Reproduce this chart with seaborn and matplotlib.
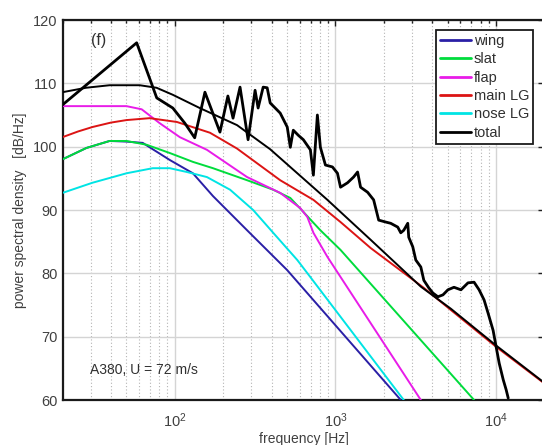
import numpy as np
import pandas as pd
import seaborn as sns
import matplotlib
matplotlib.use("Agg")
import matplotlib.pyplot as plt
from matplotlib.ticker import LogLocator, FixedLocator, NullFormatter

# ---------------- data (frequency [Hz], level [dB/Hz]) ----------------
wing_f = [20, 28.2, 39.3, 50, 63.1, 93, 129.6, 172.8, 281.8, 501, 2550]
wing_L = [98.0, 99.8, 100.9, 100.8, 100.6, 97.9, 95.8, 92.2, 86.8, 80.5, 60.0]

slat_f = [20, 28.2, 39.3, 50, 66.8, 93, 129.6, 172.8, 281.8, 409.7, 523.6, 631, 805.6, 1075, 7290]
slat_L = [98.0, 99.8, 100.9, 100.9, 100.3, 99.0, 97.6, 96.6, 94.7, 93.2, 91.9, 89.7, 86.8, 83.7, 60.0]

flap_f = [20, 50, 62.2, 80.6, 107.5, 158.5, 281.8, 453, 604, 668, 729, 891, 3398]
flap_L = [106.4, 106.4, 105.9, 103.7, 101.5, 99.5, 95.2, 92.7, 90.3, 88.9, 86.4, 82.6, 60.0]

mainlg_f = [20, 25, 30.7, 40, 50.1, 69.8, 103, 165.5, 244, 453, 729, 1075, 1655, 3548, 5233, 10000, 20000]
mainlg_L = [101.5, 102.4, 103.1, 103.8, 104.2, 104.5, 103.9, 102.2, 99.7, 94.7, 91.6, 88.1, 84.0, 77.7, 74.2, 68.4, 62.6]

noselg_f = [20, 30.7, 50.1, 72.9, 93, 118.9, 158.5, 220.9, 307.4, 409.7, 578.7, 698, 2661]
noselg_L = [92.7, 94.3, 95.8, 96.6, 96.6, 96.0, 95.2, 93.2, 90.0, 86.4, 82.1, 79.4, 60.0]

total_f = [20, 28, 39.3, 60.5, 77, 97, 143, 244, 392, 891, 1655, 3398, 5233, 10000, 20000]
total_L = [108.6, 109.3, 109.7, 109.7, 109.3, 108.2, 106.1, 103.4, 99.6, 91.6, 85.3, 77.9, 74.4, 68.6, 62.7]

meas_f = [20, 57.9, 77.2, 97.2, 115.5, 133, 154, 191, 214, 230.4, 254.7, 285.8, 316, 330,
          354.8, 375.8, 392.4, 421.7, 452.9, 501, 523.6, 546.4, 587, 631, 698, 728.6, 771.6,
          805.6, 866, 957.5, 1029, 1075, 1189, 1296, 1373, 1433, 1585, 1728, 1858, 2054, 2207,
          2441, 2549, 2661, 2818, 2858, 3027, 3162, 3398, 3548, 3811, 4037, 4340, 4667, 5012,
          5465, 6040, 6683, 7289, 7834, 8414, 8913, 9575, 10000, 10450, 11070, 11550, 11890]
meas_L = [106.6, 116.4, 107.7, 106.1, 103.7, 101.4, 108.6, 102.3, 108.0, 104.5, 109.4, 101.1,
          108.9, 106.1, 109.4, 109.3, 106.9, 106.1, 105.3, 103.1, 99.9, 102.6, 101.8, 101.1,
          99.5, 95.5, 105.0, 99.9, 97.1, 96.8, 95.8, 93.6, 94.3, 95.2, 96.0, 93.6, 92.8, 91.6,
          88.4, 88.1, 87.9, 87.3, 86.4, 86.8, 87.9, 85.7, 84.2, 82.1, 81.0, 78.9, 77.7, 76.9,
          76.3, 76.6, 77.4, 77.8, 77.4, 78.5, 78.6, 77.4, 75.8, 73.7, 71.0, 68.4, 65.8, 63.2,
          61.6, 60.3]

series = ["wing", "slat", "flap", "main LG", "nose LG", "total"]
colors = ["#2a1fa6", "#00dc3c", "#e81ce8", "#dc1414", "#00e4e4", "#000000"]
y_ticks = [60, 70, 80, 90, 100, 110, 120]
x_ticks = [100, 1000, 10000]
x_ticklabels = [r"$10^2$", r"$10^3$", r"$10^4$"]

# ---------------- figure ----------------
sns.set_style("white")
plt.rcParams["font.family"] = ["Liberation Sans", "DejaVu Sans"]
plt.rcParams["mathtext.fontset"] = "custom"
plt.rcParams["mathtext.rm"] = "Liberation Sans"
plt.rcParams["mathtext.it"] = "Liberation Sans"

fig = plt.figure(figsize=(5.42, 4.45), dpi=100)
ax = fig.add_axes([62.5 / 542, 45 / 445, 482 / 542, 380 / 445])

data_sets = [(wing_f, wing_L), (slat_f, slat_L), (flap_f, flap_L),
             (mainlg_f, mainlg_L), (noselg_f, noselg_L), (total_f, total_L)]
for name, col, (f, L) in zip(series, colors, data_sets):
    df = pd.DataFrame({"f": f, "L": L})
    sns.lineplot(data=df, x="f", y="L", ax=ax, color=col, lw=1.4, label=name,
                 sort=False, estimator=None, zorder=3)

dfm = pd.DataFrame({"f": meas_f, "L": meas_L})
sns.lineplot(data=dfm, x="f", y="L", ax=ax, color="black", lw=2.0,
             sort=False, estimator=None, zorder=4, legend=False)

ax.set_xscale("log")
ax.set_xlim(20, 20000)
ax.set_ylim(60, 120)
ax.set_yticks(y_ticks)
ax.xaxis.set_major_locator(FixedLocator(x_ticks))
ax.set_xticklabels(x_ticklabels)
ax.xaxis.set_minor_locator(LogLocator(base=10, subs=np.arange(2, 10)))
ax.xaxis.set_minor_formatter(NullFormatter())

ax.grid(True, which="major", axis="both", color="#d4d4d4", lw=1.0, ls="-", zorder=0)
ax.grid(True, which="minor", axis="x", color="#b4b4b4", lw=0.8, ls=(0, (1, 2)), zorder=0)
ax.set_axisbelow(True)

ax.tick_params(which="both", direction="in", top=True, right=True,
               colors="#202020", labelcolor="#404040", labelsize=10.5)
ax.tick_params(which="major", length=4, width=1.0)
ax.tick_params(which="minor", length=2.5, width=1.0)
ax.tick_params(axis="x", pad=8)
for s in ax.spines.values():
    s.set_color("#1a1a1a")
    s.set_linewidth(1.6)

ax.set_xlabel("frequency [Hz]", fontsize=10, color="#404040", labelpad=2)
ax.set_ylabel("power spectral density   [dB/Hz]", fontsize=10, color="#404040", labelpad=4)

ax.text(33.5, 116.7, "(f)", fontsize=11.5, color="#303030", ha="center", va="center")
ax.text(29.5, 64.7, "A380, U = 72 m/s", fontsize=10, color="#303030", ha="left", va="center")

leg = ax.legend(loc="upper right", bbox_to_anchor=(0.977, 0.975), fontsize=10.5,
                frameon=True, fancybox=False, edgecolor="#1a1a1a", framealpha=1,
                handlelength=2.1, handletextpad=0.2, labelspacing=0.3, borderpad=0.3,
                borderaxespad=0)
leg.get_frame().set_linewidth(1.3)
for t in leg.get_texts():
    t.set_color("#303030")
for h in leg.get_lines():
    h.set_linewidth(2.0)

fig.savefig("out.png", dpi=100)
